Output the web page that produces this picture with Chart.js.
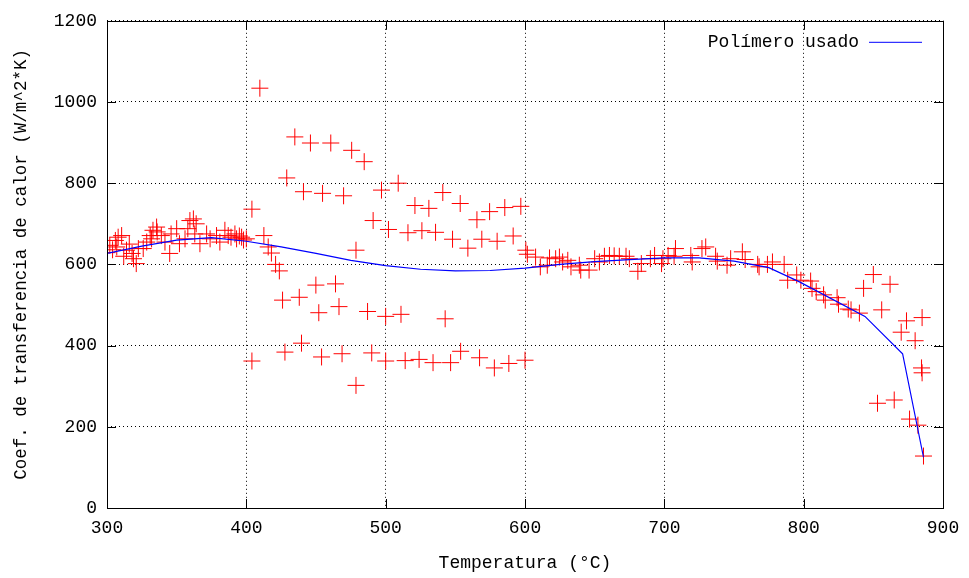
<!DOCTYPE html>
<html>
<head>
<meta charset="utf-8">
<script src="https://cdn.jsdelivr.net/npm/chart.js@4/dist/chart.umd.min.js"></script>
<style>
  body { margin: 0; background: #fff; }
</style>
</head>
<body>
<canvas id="chart" width="969" height="578"></canvas>
<script>
"use strict";
// measured points (red crosses): temperature and coefficient, same order
const scatterTemps = [
  300, 302, 306, 308, 310.5, 307, 314, 318, 319, 321, 322.5, 326, 328.5, 331, 333, 335.6,
  332, 339, 341.6, 345, 346, 350, 352, 356, 358, 359.5, 362, 364, 363, 366.7, 371.5, 374,
  378.6, 381, 384.6, 387, 389, 391.8, 393, 396.6, 400, 304, 312, 316, 336, 398, 395,
  404, 409.7, 412.6, 415.7, 418, 421, 423.7, 426, 427.7, 429, 434.8, 438, 439.6, 441, 446,
  449.9, 452, 454, 454.7, 460.6, 464, 466.5, 468.7, 469.8, 475.6, 478.7, 478.7, 484.6, 487,
  490, 491, 497, 500, 500, 404,
  502, 509, 511, 514, 516, 521, 524, 526, 531, 534, 535.8, 541, 542.7, 546.6, 548, 553.5,
  553.8, 559, 565.5, 567.4, 569, 574.6, 578, 580, 585.5, 588.4, 591.5, 597, 600, 601.7, 607.6,
  600.6, 611, 616, 617.6, 622, 624.7, 627, 630.7, 633, 639, 640, 646, 650, 653.4, 657, 660.6,
  664, 667.7, 672.5, 674.9, 681, 683.5, 690, 693, 699, 702.7, 707, 708,
  698, 719, 720, 727, 729.7, 736.8, 738, 745, 747.6, 756, 758, 767, 768, 774, 777.6, 786,
  788.5, 795, 798,
  805, 806, 809, 814.3, 815.5, 824, 825, 832, 834, 840, 843, 850, 856, 862, 853, 865, 870,
  873.8, 876, 880, 882, 884.6, 885, 885, 886
];
const scatterCoefs = [
  629, 647, 659, 667, 671, 643, 635, 627, 614, 602, 639, 639, 655, 671, 684, 692,
  663, 671, 655, 627, 675, 688, 651, 663, 688, 708, 712, 700, 675, 651, 675, 663,
  671, 655, 684, 671, 667, 675, 663, 667, 663, 636, 620, 650, 680, 660, 670,
  736, 1034, 671, 643, 628, 600, 584, 512, 384, 813, 914, 519, 406, 779, 899,
  549, 481, 372, 775, 899, 552, 496, 380, 769, 881, 635, 302, 853, 484,
  382, 708, 783, 472, 362, 362,
  686, 800, 477, 363, 678, 745, 366, 683, 738, 358, 679, 777, 466, 358, 662, 750,
  386, 640, 710, 370, 662, 730, 345, 657, 740, 356, 670, 743, 364, 625, 618,
  635, 594, 598, 616, 614, 618, 606, 610, 594, 598, 586, 586, 614, 606, 620, 622,
  621, 620, 620, 614, 583, 602, 614, 622, 614, 622, 620, 639,
  602, 622, 606, 639, 643, 620, 608, 598, 614, 631, 612, 600, 594, 600, 606, 600,
  561, 574, 561,
  559, 541, 533, 525, 512, 518, 502, 490, 488, 480, 541, 575, 488, 551, 258, 266, 433,
  461, 219, 412, 204, 345, 333, 469, 128
];
// fitted curve (blue line)
const lineTemps = [300, 325, 350, 375, 400, 425, 450, 475, 500, 525, 550, 575, 600, 625,
  650, 675, 700, 725, 750, 775, 797, 844, 871, 886];
const lineCoefs = [627, 645, 660, 666, 657, 643, 627, 610, 597, 588, 584, 585, 591, 600,
  607, 612, 616, 616, 608, 592, 557, 472, 380, 125];

const X_TICKS = [300, 400, 500, 600, 700, 800, 900];
const Y_TICKS = [0, 200, 400, 600, 800, 1000, 1200];
const FONT = { family: "'Liberation Mono', 'DejaVu Sans Mono', monospace", size: 18 };

function pairs(xs, ys) {
  return xs.map((x, i) => ({ x: x, y: ys[i] }));
}

// frame, inner tic marks and the legend key, gnuplot style
const gnuFrame = {
  id: "gnuFrame",
  afterDatasetsDraw(chart) {
    const ctx = chart.ctx;
    const a = chart.chartArea;
    const xs = chart.scales.x;
    const ys = chart.scales.y;
    ctx.save();
    ctx.setLineDash([]);
    ctx.strokeStyle = "#000";
    ctx.lineWidth = 1;
    ctx.beginPath();
    X_TICKS.forEach(v => {
      let px = Math.round(xs.getPixelForValue(v)) + 0.5;
      ctx.moveTo(px, a.bottom); ctx.lineTo(px, a.bottom - 9);
      ctx.moveTo(px, a.top); ctx.lineTo(px, a.top + 9);
    });
    Y_TICKS.forEach(v => {
      let py = Math.round(ys.getPixelForValue(v)) + 0.5;
      ctx.moveTo(a.left, py); ctx.lineTo(a.left + 9, py);
      ctx.moveTo(a.right, py); ctx.lineTo(a.right - 9, py);
    });
    ctx.stroke();
    ctx.strokeRect(Math.round(a.left) + 0.5, Math.round(a.top) + 0.5,
      Math.round(a.right - a.left), Math.round(a.bottom - a.top));

    // key
    let ds = chart.data.datasets[1];
    ctx.font = FONT.size + "px " + FONT.family;
    ctx.fillStyle = "#000";
    ctx.textAlign = "right";
    ctx.textBaseline = "middle";
    ctx.fillText(ds.label, a.right - 84, a.top + 21);
    ctx.strokeStyle = ds.borderColor;
    ctx.beginPath();
    ctx.moveTo(a.right - 74, a.top + 21.5);
    ctx.lineTo(a.right - 21, a.top + 21.5);
    ctx.stroke();
    ctx.restore();
  }
};

new Chart(document.getElementById("chart"), {
  type: "scatter",
  data: {
    datasets: [
      {
        label: "datos",
        data: pairs(scatterTemps, scatterCoefs),
        pointStyle: "cross",
        pointRadius: 8.5,
        borderColor: "#ff0000",
        backgroundColor: "#ff0000",
        borderWidth: 1,
        showLine: false,
        order: 1
      },
      {
        label: "Polímero usado",
        data: pairs(lineTemps, lineCoefs),
        showLine: true,
        pointRadius: 0,
        borderColor: "#0000ff",
        borderWidth: 1.2,
        tension: 0,
        order: 0
      }
    ]
  },
  options: {
    responsive: false,
    animation: false,
    devicePixelRatio: 1,
    layout: { padding: { top: 17, right: 26, left: 0, bottom: 0 } },
    plugins: {
      legend: { display: false },
      tooltip: { enabled: false }
    },
    scales: {
      x: {
        type: "linear",
        min: 300,
        max: 900,
        afterFit: s => { s.height = 70; },
        ticks: {
          stepSize: 100, color: "#000", font: FONT, padding: 9, maxRotation: 0,
          callback: v => String(v)
        },
        grid: { color: "#000", lineWidth: 1, drawTicks: false },
        border: { display: false, dash: [1, 3] },
        title: {
          display: true,
          text: "Temperatura (°C)",
          color: "#000",
          font: FONT,
          padding: { top: 0, bottom: 4 }
        }
      },
      y: {
        min: 0,
        max: 1200,
        afterFit: s => { s.width = 107; },
        ticks: {
          stepSize: 200, color: "#000", font: FONT, padding: 10,
          callback: v => String(v)
        },
        grid: { color: "#000", lineWidth: 1, drawTicks: false },
        border: { display: false, dash: [1, 3] },
        title: {
          display: true,
          text: "Coef. de transferencia de calor (W/m^2*K)",
          color: "#000",
          font: { family: FONT.family, size: 17.5 },
          padding: { top: 11, bottom: 0 }
        }
      }
    }
  },
  plugins: [gnuFrame]
});
</script>
</body>
</html>
